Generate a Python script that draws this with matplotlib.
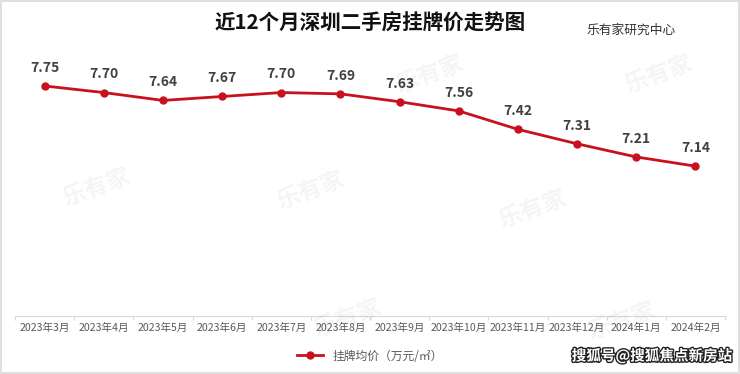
import matplotlib.pyplot as plt
import matplotlib.patheffects as pe
from matplotlib.patches import Rectangle

plt.rcParams['font.family'] = ['Noto Sans CJK SC', 'DejaVu Sans']

months = ["2023年3月", "2023年4月", "2023年5月", "2023年6月", "2023年7月", "2023年8月",
          "2023年9月", "2023年10月", "2023年11月", "2023年12月", "2024年1月", "2024年2月"]
prices = [7.75, 7.70, 7.64, 7.67, 7.70, 7.69, 7.63, 7.56, 7.42, 7.31, 7.21, 7.14]

title = "近12个月深圳二手房挂牌价走势图"
source = "乐有家研究中心"
series_name = "挂牌均价（万元/㎡）"

red = "#C8101E"

fig = plt.figure(figsize=(7.4, 3.74), dpi=100)
ax = fig.add_axes([0.0203, 0.155, 0.9595, 0.703])

x = list(range(len(months)))
line, = ax.plot(x, prices, color=red, linewidth=2.0, marker="o", markersize=5,
                label=series_name, zorder=3)

for xi, v in zip(x, prices):
    ax.annotate(f"{v:.2f}", (xi, v), xytext=(0, 8), textcoords="offset points",
                ha="center", va="bottom", fontsize=10, fontweight="bold",
                color="#404040")

ax.set_xlim(-0.5, len(months) - 0.5)
ax.set_ylim(6.0, 8.0)
ax.set_yticks([])
ax.set_xticks(x)
ax.set_xticklabels(months, fontsize=7.6, color="#595959")
ax.set_xticks([i + 0.5 for i in range(-1, len(months))], minor=True)
ax.tick_params(axis="x", which="major", length=0, pad=5)
ax.tick_params(axis="x", which="minor", length=3, color="#d9d9d9", width=0.8)
for s in ["top", "left", "right"]:
    ax.spines[s].set_visible(False)
ax.spines["bottom"].set_color("#d9d9d9")
ax.spines["bottom"].set_linewidth(0.8)

fig.text(0.5, 0.937, title, ha="center", va="center", fontsize=14.8,
         fontweight="bold", color="#111111")
fig.text(0.853, 0.92, source, ha="center", va="center", fontsize=9.2,
         color="#333333")

fig.legend(handles=[line], loc="center", bbox_to_anchor=(0.5, 0.048),
           frameon=False, fontsize=8.5, handlelength=2.2, labelcolor="#595959")

# faint watermarks
for wx, wy in [(0.13, 0.50), (0.42, 0.49), (0.58, 0.80), (0.72, 0.44),
               (0.89, 0.80), (0.47, 0.15), (0.84, 0.14)]:
    fig.text(wx, wy, "乐有家", fontsize=17, fontweight="bold", color="#000000",
             alpha=0.045, rotation=20, ha="center", va="center")

fig.text(0.99, 0.048, "搜狐号@搜狐焦点新房站", ha="right", va="center",
         fontsize=10.5, fontweight="bold", color="white",
         path_effects=[pe.withStroke(linewidth=2, foreground="#222222")])

fig.patches.append(Rectangle((0.002, 0.003), 0.996, 0.994, transform=fig.transFigure,
                             fill=False, edgecolor="#d9d9d9", linewidth=1.2))

fig.savefig("out.png", dpi=100)
